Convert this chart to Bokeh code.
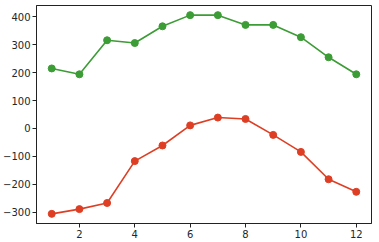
from bokeh.plotting import figure
from bokeh.models import FixedTicker, Range1d
from bokeh.embed import file_html
from bokeh.resources import INLINE

months = [1, 2, 3, 4, 5, 6, 7, 8, 9, 10, 11, 12]
green_vals = [215, 194, 316, 306, 366, 406, 406, 371, 371, 327, 255, 194]
red_vals = [-306, -289, -267, -117, -61, 11, 39, 34, -23, -84, -182, -227]
x_ticks = [2, 4, 6, 8, 10, 12]
y_ticks = [-300, -200, -100, 0, 100, 200, 300, 400]

p = figure(width=379, height=242, output_backend="svg", toolbar_location=None,
           x_range=Range1d(0.45, 12.55), y_range=Range1d(-340.5, 440.5),
           min_border_left=35, min_border_right=8, min_border_top=5, min_border_bottom=19)
p.xgrid.visible = False
p.ygrid.visible = False
p.outline_line_color = "#222222"
p.outline_line_width = 1

for ax in (p.xaxis[0], p.yaxis[0]):
    ax.axis_line_color = "#222222"
    ax.major_tick_line_color = "#222222"
    ax.minor_tick_line_color = None
    ax.major_tick_out = 4
    ax.major_tick_in = 0
    ax.major_label_text_font = "DejaVu Sans"
    ax.major_label_text_font_size = "10px"
    ax.major_label_text_color = "#262626"
    ax.major_label_standoff = 2

p.xaxis.ticker = FixedTicker(ticks=x_ticks)
p.yaxis.ticker = FixedTicker(ticks=y_ticks)
p.yaxis.major_label_overrides = {v: str(v).replace("-", "\u2212") for v in y_ticks}

green = "#3c9c35"
red = "#de3f24"
p.line(months, green_vals, line_color=green, line_width=1.6)
p.scatter(months, green_vals, size=7, fill_color=green, line_color=green)
p.line(months, red_vals, line_color=red, line_width=1.6)
p.scatter(months, red_vals, size=7, fill_color=red, line_color=red)

open("out.html", "w").write(file_html(p, INLINE))
